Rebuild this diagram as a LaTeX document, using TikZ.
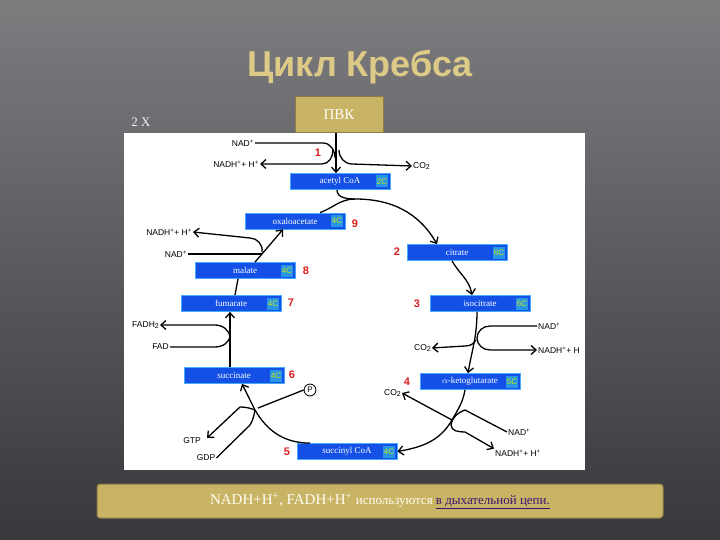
\documentclass[tikz,border=0pt]{standalone}
\usepackage{fontspec}
\setmainfont{Liberation Serif}
\newfontfamily\sans{Liberation Sans}
\usetikzlibrary{arrows.meta}
\definecolor{bgtop}{RGB}{125,125,128}
\definecolor{bgbot}{RGB}{55,55,60}
\definecolor{tan}{RGB}{200,180,100}
\definecolor{titlec}{RGB}{222,202,135}
\definecolor{boxb}{RGB}{20,80,230}
\definecolor{boxe}{RGB}{70,170,255}
\definecolor{clab}{RGB}{40,150,230}
\definecolor{nred}{RGB}{220,30,30}
\definecolor{link}{RGB}{60,20,120}
\newcommand{\sps}[1]{\textsuperscript{#1}}
\newcommand{\sbs}[1]{\raisebox{-0.4ex}{\scriptsize #1}}
\tikzset{
  mol/.style={draw=boxe,fill=boxb,line width=0.8pt,minimum width=100pt,minimum height=16pt,inner sep=0pt,text=white,font=\fontsize{9}{9}\selectfont},
  cl/.style={fill=clab,text=yellow!80!green,font=\sans\fontsize{8}{8}\selectfont,inner sep=1pt,minimum height=12pt},
  num/.style={text=nred,font=\sans\bfseries\fontsize{11}{11}\selectfont},
  lab/.style={font=\sans\fontsize{8.5}{8.5}\selectfont,inner sep=1pt},
  ln/.style={line width=1.3pt},
  ar/.style={line width=1.3pt,-{Straight Barb[length=5pt,width=9pt]}},
}
\begin{document}
\begin{tikzpicture}[x=1pt,y=-1pt]
\useasboundingbox (0,0) rectangle (720,540);
\shade[top color=bgtop,bottom color=bgbot] (0,0) rectangle (720,540);
\fill[white] (124,133) rectangle (585,470);
\node[text=titlec,font=\sans\bfseries\fontsize{36}{36}\selectfont] (title) at (360,67) {Цикл Кребса};
\node[text=white!90!gray,font=\fontsize{13}{13}\selectfont] (twox) at (141,122) {2 X};
\node[draw=tan!70!black,fill=tan,line width=1pt,minimum width=88pt,minimum height=36pt,text=white,font=\fontsize{15}{15}\selectfont] (pvk) at (339,115) {ПВК};
% molecules
\node[mol] (acc) at (340,181.5) {acetyl CoA};
\node[mol] (oxa) at (295,221) {oxaloacetate};
\node[mol] (cit) at (457,252.5) {citrate};
\node[mol] (mal) at (245,270.5) {malate};
\node[mol] (fum) at (231,303.5) {fumarate};
\node[mol] (iso) at (480,303.5) {isocitrate};
\node[mol] (suc) at (234,375.5) {succinate};
\node[mol] (akg) at (470,381.5) {$\alpha$-ketoglutarate};
\node[mol] (scoa) at (347,451.5) {succinyl CoA};
\foreach \n/\c in {acc/2C,oxa/4C,cit/6C,mal/4C,fum/4C,iso/6C,suc/4C,akg/5C,scoa/4C}
  \node[cl,anchor=east] (\n c) at ([xshift=-2pt]\n.east) {\c};
\node[num] (n1) at (318,153) {1};
\node[num] (n9) at (355,224) {9};
\node[num] (n2) at (397,252) {2};
\node[num] (n8) at (306,271) {8};
\node[num] (n7) at (291,303) {7};
\node[num] (n3) at (417,304) {3};
\node[num] (n6) at (292,375) {6};
\node[num] (n4) at (407,382) {4};
\node[num] (n5) at (287,452) {5};
% labels
\node[lab,anchor=east] (nad1) at (255,143) {NAD\sps{+}};
\node[lab,anchor=east] (nadh1) at (260,164) {NADH\sps{+}+ H\sps{+}};
\node[lab,anchor=west] (co21) at (412,166) {CO\sbs{2}};
\node[lab,anchor=east] (nadh9) at (193,232) {NADH\sps{+}+ H\sps{+}};
\node[lab,anchor=east] (nad9) at (188,254) {NAD\sps{+}};
\node[lab,anchor=east] (fadh) at (160,325) {FADH\sbs{2}};
\node[lab,anchor=east] (fad) at (170,347) {FAD};
\node[lab,anchor=west] (nad3) at (537,326) {NAD\sps{+}};
\node[lab,anchor=west] (nadh3) at (537,350) {NADH\sps{+}+ H};
\node[lab,anchor=east] (co23) at (432,348) {CO\sbs{2}};
\node[lab,anchor=east] (co24) at (402,393) {CO\sbs{2}};
\node[lab,anchor=west] (nad4) at (507,432) {NAD\sps{+}};
\node[lab,anchor=west] (nadh4) at (494,453) {NADH\sps{+}+ H\sps{+}};
\node[lab] (gtp) at (192,441) {GTP};
\node[lab] (gdp) at (206,458) {GDP};
\node[draw,circle,line width=0.8pt,inner sep=1.5pt,font=\sans\fontsize{8}{8}\selectfont] (p) at (310,390) {P};
% step 1
\draw[ar] (pvk.south -| 336,0) -- (acc.north -| 336,0);
\draw[ln] (nad1.east) -- (323,143) to[out=0,in=90] (335,158);
\draw[ar] (333,150) to[out=-90,in=0] (322,164) -- (nadh1.east);
\draw[ar] (339,150) to[out=-90,in=180] (352,164) -- (co21.west);
% acetyl to citrate
\draw[ar] (337,190) to[out=-90,in=180] (355,199) to[out=0,in=120] (cit.north -| 437,0);
\draw[ln] (oxa.north -| 320,0) to[out=20,in=180] (355,199);
% citrate -> isocitrate
\draw[ar] (cit.south -| 452,0) to[out=-60,in=100] (iso.north -| 472,0);
% isocitrate -> akg
\draw[ar] (iso.south -| 477,0) to[out=-90,in=80] (akg.north -| 468,0);
\draw[ln] (nad3.west) -- (490,326) to[out=180,in=90] (477,338);
\draw[ar] (477,338) to[out=-90,in=180] (490,350) -- (nadh3.west);
\draw[ar] (476,340) to[out=-120,in=0] (465,346) -- (co23.east);
% akg -> succinyl CoA
\draw[ar] (akg.south -| 465,0) to[out=-100,in=60] (452,420) to[out=-120,in=10] (scoa.east);
\draw[ar] (452,420) -- (co24.east);
\draw[ln] (nad4.west) -- (465,410) to[out=200,in=80] (451,425);
\draw[ar] (451,425) to[out=-90,in=180] (465,432) -- (nadh4.north west);
% succinyl CoA -> succinate
\draw[ar] (scoa.north -| 310,0) to[out=180,in=-60] (255,410) -- (suc.south -| 242,0);
\draw[ln] (p.west) -- (258,408);
\draw[ar] (255,410) to[out=160,in=0] (240,407) -- (207,438);
\draw[ln] (gdp.east) -- (250,425) to[out=60,in=-100] (255,410);
% succinate -> fumarate
\draw[ar] (suc.north -| 230,0) -- (fum.south -| 230,0);
\draw[ar] (230,338) to[out=90,in=0] (215,325) -- (fadh.east);
\draw[ln] (fad.east) -- (215,347) to[out=0,in=-90] (230,335);
% fumarate -> malate
\draw[ln] (fum.north -| 235,0) -- (mal.south -| 238,0);
% malate -> oxaloacetate
\draw[ar] (mal.north -| 255,0) -- (oxa.south -| 283,0);
\draw[ar] (262,252) to[out=80,in=0] (250,238) -- (nadh9.east);
\draw[ln] (nad9.east) -- (262,254);
% bottom box
\node[draw=tan!70!black,fill=tan,line width=1pt,rounded corners=3pt,minimum width=566pt,minimum height=34pt,text=white!95!yellow,font=\fontsize{15}{15}\selectfont] (note) at (380,501)
 {NADH+H\sps{+}, FADH+H\sps{+} {\fontsize{13}{13}\selectfont используются \textcolor{link}{\underline{в дыхательной цепи.}}}};
\end{tikzpicture}
\end{document}
